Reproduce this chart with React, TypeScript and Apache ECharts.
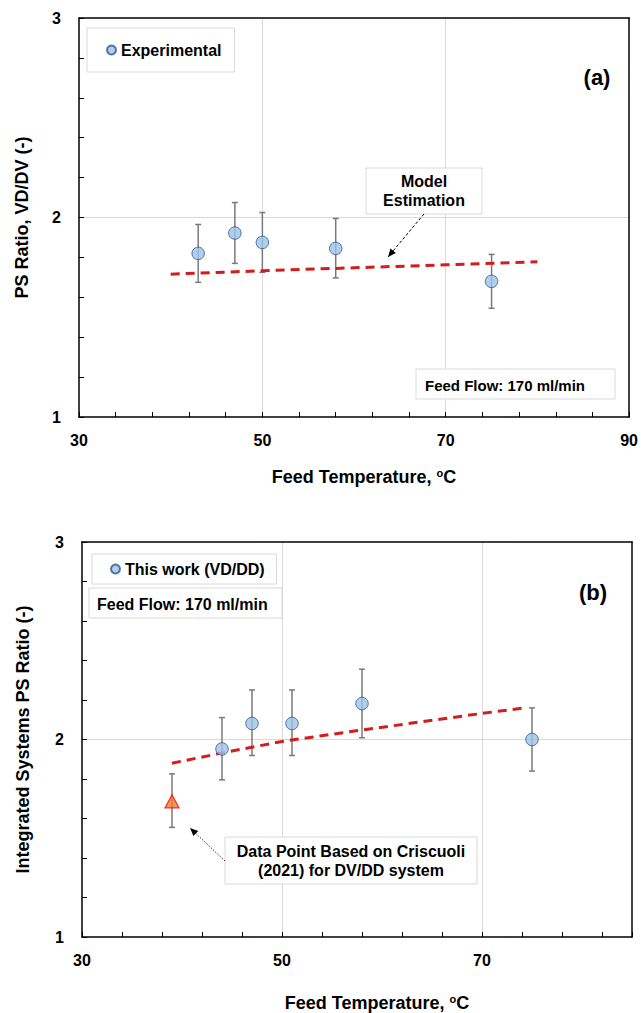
import React, { useEffect, useRef } from "react";
import * as echarts from "echarts";

// ---------- Data ----------
// Panel (a): PS ratio VD/DV
const tempA = [43, 47, 50, 58, 75];
const psA = [1.82, 1.922, 1.875, 1.845, 1.68];
const psALow = [1.675, 1.77, 1.725, 1.697, 1.545];
const psAHigh = [1.965, 2.075, 2.025, 1.995, 1.815];
const modelATemp = [40, 50, 60, 70, 80];
const modelAPS = [1.716, 1.733, 1.748, 1.763, 1.778];

// Panel (b): integrated systems PS ratio
const tempB = [44, 47, 51, 58, 75];
const psB = [1.952, 2.081, 2.081, 2.182, 2.0];
const psBLow = [1.796, 1.919, 1.919, 2.009, 1.84];
const psBHigh = [2.111, 2.251, 2.251, 2.356, 2.16];
const refTemp = [39];
const refPS = [1.687];
const refLow = [1.555];
const refHigh = [1.826];
const modelBTemp = [39, 44, 50, 58, 70, 74.5];
const modelBPS = [1.88, 1.932, 1.99, 2.048, 2.132, 2.162];

// Axis ticks
const xLabelValues = [30, 50, 70, 90];
const yLabelValues = [1, 2, 3];

const FONT = "'Liberation Sans', Arial, sans-serif";

function zip2(a: number[], b: number[]) {
  return a.map((v, i) => [v, b[i]]);
}
function zip3(a: number[], b: number[], c: number[]) {
  return a.map((v, i) => [v, b[i], c[i]]);
}

function arrowHead(x1: number, y1: number, x2: number, y2: number, len: number, half: number) {
  const dx = x2 - x1, dy = y2 - y1;
  const l = Math.sqrt(dx * dx + dy * dy);
  const ux = dx / l, uy = dy / l;
  const bx = x2 - ux * len, by = y2 - uy * len;
  const nx = -uy, ny = ux;
  return [
    [x2, y2],
    [bx + nx * half, by + ny * half],
    [bx - nx * half, by - ny * half],
  ];
}

const errorRender = (params: any, api: any) => {
  const x = api.value(0);
  const lo = api.coord([x, api.value(1)]);
  const hi = api.coord([x, api.value(2)]);
  const w = 3;
  const st = { stroke: "#7a7a7a", lineWidth: 1.5 };
  return {
    type: "group",
    children: [
      { type: "line", shape: { x1: hi[0], y1: hi[1], x2: lo[0], y2: lo[1] }, style: st },
      { type: "line", shape: { x1: hi[0] - w, y1: hi[1], x2: hi[0] + w, y2: hi[1] }, style: st },
      { type: "line", shape: { x1: lo[0] - w, y1: lo[1], x2: lo[0] + w, y2: lo[1] }, style: st },
    ],
  };
};

function mainX(gridIndex: number, max: number, gap: number, shift: number) {
  return {
    type: "value",
    gridIndex,
    min: 30,
    max,
    interval: 4,
    z: 5,
    axisLine: { show: true, onZero: false, lineStyle: { color: "#000", width: 1.5 } },
    axisTick: { show: true, inside: true, length: 5, lineStyle: { color: "#000", width: 1 } },
    axisLabel: {
      margin: 15,
      color: "#000",
      fontFamily: FONT,
      fontWeight: "bold",
      fontSize: 16,
      formatter: (v: number) => (xLabelValues.some((t) => Math.abs(t - v) < 1e-6) ? String(v) : ""),
    },
    splitLine: { show: false },
    name: "{t|Feed Temperature, }{s|o}{t|C}",
    nameLocation: "middle",
    nameGap: gap,
    nameTextStyle: {
      padding: [0, 0, 0, shift],
      rich: {
        t: { fontFamily: FONT, fontWeight: "bold", fontSize: 18, color: "#000", lineHeight: 20 },
        s: { fontFamily: FONT, fontWeight: "bold", fontSize: 11, color: "#000", verticalAlign: "top", lineHeight: 12 },
      },
    },
  };
}

function gridX(gridIndex: number, max: number) {
  return {
    type: "value",
    gridIndex,
    position: "top",
    min: 30,
    max,
    interval: 20,
    z: 2,
    axisLine: { show: true, onZero: false, lineStyle: { color: "#000", width: 1.5 } },
    axisTick: { show: false },
    axisLabel: { show: false },
    splitLine: { show: true, showMinLine: false, showMaxLine: false, lineStyle: { color: "#d9d9d9", width: 1 } },
  };
}

function mainY(gridIndex: number, name: string, gap: number) {
  return {
    type: "value",
    gridIndex,
    min: 1,
    max: 3,
    interval: 0.2,
    z: 5,
    axisLine: { show: true, onZero: false, lineStyle: { color: "#000", width: 1.5 } },
    axisTick: { show: true, inside: true, length: 5, lineStyle: { color: "#000", width: 1 } },
    axisLabel: {
      margin: 18,
      color: "#000",
      fontFamily: FONT,
      fontWeight: "bold",
      fontSize: 16,
      formatter: (v: number) => {
        const m = yLabelValues.find((t) => Math.abs(t - v) < 1e-6);
        return m === undefined ? "" : String(m);
      },
    },
    splitLine: { show: false },
    name,
    nameLocation: "middle",
    nameGap: gap,
    nameTextStyle: { fontFamily: FONT, fontWeight: "bold", fontSize: 18, color: "#000" },
  };
}

function gridY(gridIndex: number) {
  return {
    type: "value",
    gridIndex,
    position: "right",
    min: 1,
    max: 3,
    interval: 1,
    z: 2,
    axisLine: { show: true, onZero: false, lineStyle: { color: "#000", width: 1.5 } },
    axisTick: { show: false },
    axisLabel: { show: false },
    splitLine: { show: true, showMinLine: false, showMaxLine: false, lineStyle: { color: "#d9d9d9", width: 1 } },
  };
}

const circleStyle = { color: "#9dc3e6", borderColor: "#2f5597", borderWidth: 1 };

export default function App() {
  const ref = useRef<HTMLDivElement>(null);

  useEffect(() => {
    if (!ref.current) return;
    const chart = echarts.init(ref.current, undefined, { renderer: "svg" });

    const arrowA = { x1: 424, y1: 214, x2: 388, y2: 257 };
    const arrowB = { x1: 225, y1: 861, x2: 190, y2: 828 };
    const boxStyle = { fill: "#fff", stroke: "#d9d9d9", lineWidth: 1 };
    const txt = (extra: any) => ({ fontFamily: FONT, fontWeight: "bold", fill: "#000", ...extra });

    const option: any = {
      animation: false,
      backgroundColor: "#fff",
      grid: [
        { left: 79, top: 18, width: 552, height: 399, containLabel: false },
        { left: 82, top: 542, width: 550, height: 397, containLabel: false },
      ],
      xAxis: [mainX(0, 90, 50, 20), gridX(0, 90), mainX(1, 85, 56, 40), gridX(1, 85)],
      yAxis: [
        mainY(0, "PS Ratio, VD/DV (-)", 48),
        gridY(0),
        mainY(1, "Integrated Systems PS Ratio (-)", 50),
        gridY(1),
      ],
      legend: [
        {
          left: 87,
          top: 28,
          orient: "horizontal",
          data: ["Experimental"],
          icon: "circle",
          itemWidth: 9,
          itemHeight: 9,
          itemGap: 5,
          padding: [14, 13, 14, 19],
          backgroundColor: "#fff",
          borderColor: "#d9d9d9",
          borderWidth: 1,
          borderRadius: 0,
          textStyle: { fontFamily: FONT, fontWeight: "bold", fontSize: 16, color: "#000", lineHeight: 16 },
        },
        {
          left: 92,
          top: 554,
          orient: "horizontal",
          data: ["This work (VD/DD)"],
          icon: "circle",
          itemWidth: 9,
          itemHeight: 9,
          itemGap: 5,
          padding: [7, 12, 7, 18],
          backgroundColor: "#fff",
          borderColor: "#d9d9d9",
          borderWidth: 1,
          borderRadius: 0,
          textStyle: { fontFamily: FONT, fontWeight: "bold", fontSize: 16, color: "#000", lineHeight: 16 },
        },
      ],
      series: [
        {
          type: "custom",
          name: "Error (a)",
          xAxisIndex: 0,
          yAxisIndex: 0,
          renderItem: errorRender,
          encode: { x: 0, y: [1, 2] },
          data: zip3(tempA, psALow, psAHigh),
          z: 2,
        },
        {
          type: "line",
          name: "Model Estimation (a)",
          xAxisIndex: 0,
          yAxisIndex: 0,
          data: zip2(modelATemp, modelAPS),
          showSymbol: false,
          symbol: "none",
          lineStyle: { color: "#d41c1c", width: 3, type: [9, 6] },
          z: 3,
        },
        {
          type: "scatter",
          name: "Experimental",
          xAxisIndex: 0,
          yAxisIndex: 0,
          data: zip2(tempA, psA),
          symbol: "circle",
          symbolSize: 12.5,
          itemStyle: circleStyle,
          z: 4,
        },
        {
          type: "custom",
          name: "Error (b)",
          xAxisIndex: 2,
          yAxisIndex: 2,
          renderItem: errorRender,
          encode: { x: 0, y: [1, 2] },
          data: zip3(tempB, psBLow, psBHigh).concat(zip3(refTemp, refLow, refHigh)),
          z: 2,
        },
        {
          type: "line",
          name: "Model Estimation (b)",
          xAxisIndex: 2,
          yAxisIndex: 2,
          data: zip2(modelBTemp, modelBPS),
          showSymbol: false,
          symbol: "none",
          lineStyle: { color: "#d41c1c", width: 3, type: [9, 6] },
          z: 3,
        },
        {
          type: "scatter",
          name: "This work (VD/DD)",
          xAxisIndex: 2,
          yAxisIndex: 2,
          data: zip2(tempB, psB),
          symbol: "circle",
          symbolSize: 12.5,
          itemStyle: circleStyle,
          z: 4,
        },
        {
          type: "scatter",
          name: "Criscuoli (2021) DV/DD",
          xAxisIndex: 2,
          yAxisIndex: 2,
          data: zip2(refTemp, refPS),
          symbol: "triangle",
          symbolSize: [14, 13],
          itemStyle: { color: "#ed7d31", borderColor: "#ff0000", borderWidth: 1.2 },
          z: 4,
        },
      ],
      graphic: [
        // Panel (a) annotations
        { type: "rect", shape: { x: 366, y: 168, width: 116, height: 46 }, style: boxStyle, z: 10 },
        {
          type: "text",
          x: 424,
          y: 191,
          style: txt({ text: "Model\nEstimation", fontSize: 16, lineHeight: 19, align: "center", verticalAlign: "middle" }),
          z: 11,
        },
        {
          type: "line",
          shape: arrowA,
          style: { stroke: "#000", lineWidth: 1, lineDash: [3, 2] },
          z: 10,
        },
        {
          type: "polygon",
          shape: { points: arrowHead(arrowA.x1, arrowA.y1, arrowA.x2, arrowA.y2, 8, 3.5) },
          style: { fill: "#000" },
          z: 10,
        },
        { type: "rect", shape: { x: 416, y: 369, width: 199, height: 30 }, style: boxStyle, z: 10 },
        {
          type: "text",
          x: 425,
          y: 385,
          style: txt({ text: "Feed Flow: 170 ml/min", fontSize: 15, align: "left", verticalAlign: "middle" }),
          z: 11,
        },
        {
          type: "text",
          x: 597,
          y: 77,
          style: txt({ text: "(a)", fontSize: 22, align: "center", verticalAlign: "middle" }),
          z: 11,
        },
        // Panel (b) annotations
        { type: "rect", shape: { x: 89, y: 588, width: 193, height: 30 }, style: boxStyle, z: 10 },
        {
          type: "text",
          x: 97,
          y: 604,
          style: txt({ text: "Feed Flow: 170 ml/min", fontSize: 16, align: "left", verticalAlign: "middle" }),
          z: 11,
        },
        {
          type: "text",
          x: 593,
          y: 592,
          style: txt({ text: "(b)", fontSize: 22, align: "center", verticalAlign: "middle" }),
          z: 11,
        },
        { type: "rect", shape: { x: 225, y: 837, width: 252, height: 47 }, style: boxStyle, z: 10 },
        {
          type: "text",
          x: 351,
          y: 861,
          style: txt({
            text: "Data Point Based on Criscuoli\n(2021) for DV/DD system",
            fontSize: 16,
            lineHeight: 19,
            align: "center",
            verticalAlign: "middle",
          }),
          z: 11,
        },
        {
          type: "line",
          shape: arrowB,
          style: { stroke: "#333", lineWidth: 1, lineDash: [1.5, 1.5] },
          z: 10,
        },
        {
          type: "polygon",
          shape: { points: arrowHead(arrowB.x1, arrowB.y1, arrowB.x2, arrowB.y2, 8, 3.5) },
          style: { fill: "#000" },
          z: 10,
        },
      ],
    };

    chart.setOption(option);
    return () => chart.dispose();
  }, []);

  return (
    <div
      ref={ref}
      style={{ position: "absolute", left: 0, top: 0, width: 641, height: 1013, background: "#fff" }}
    />
  );
}
